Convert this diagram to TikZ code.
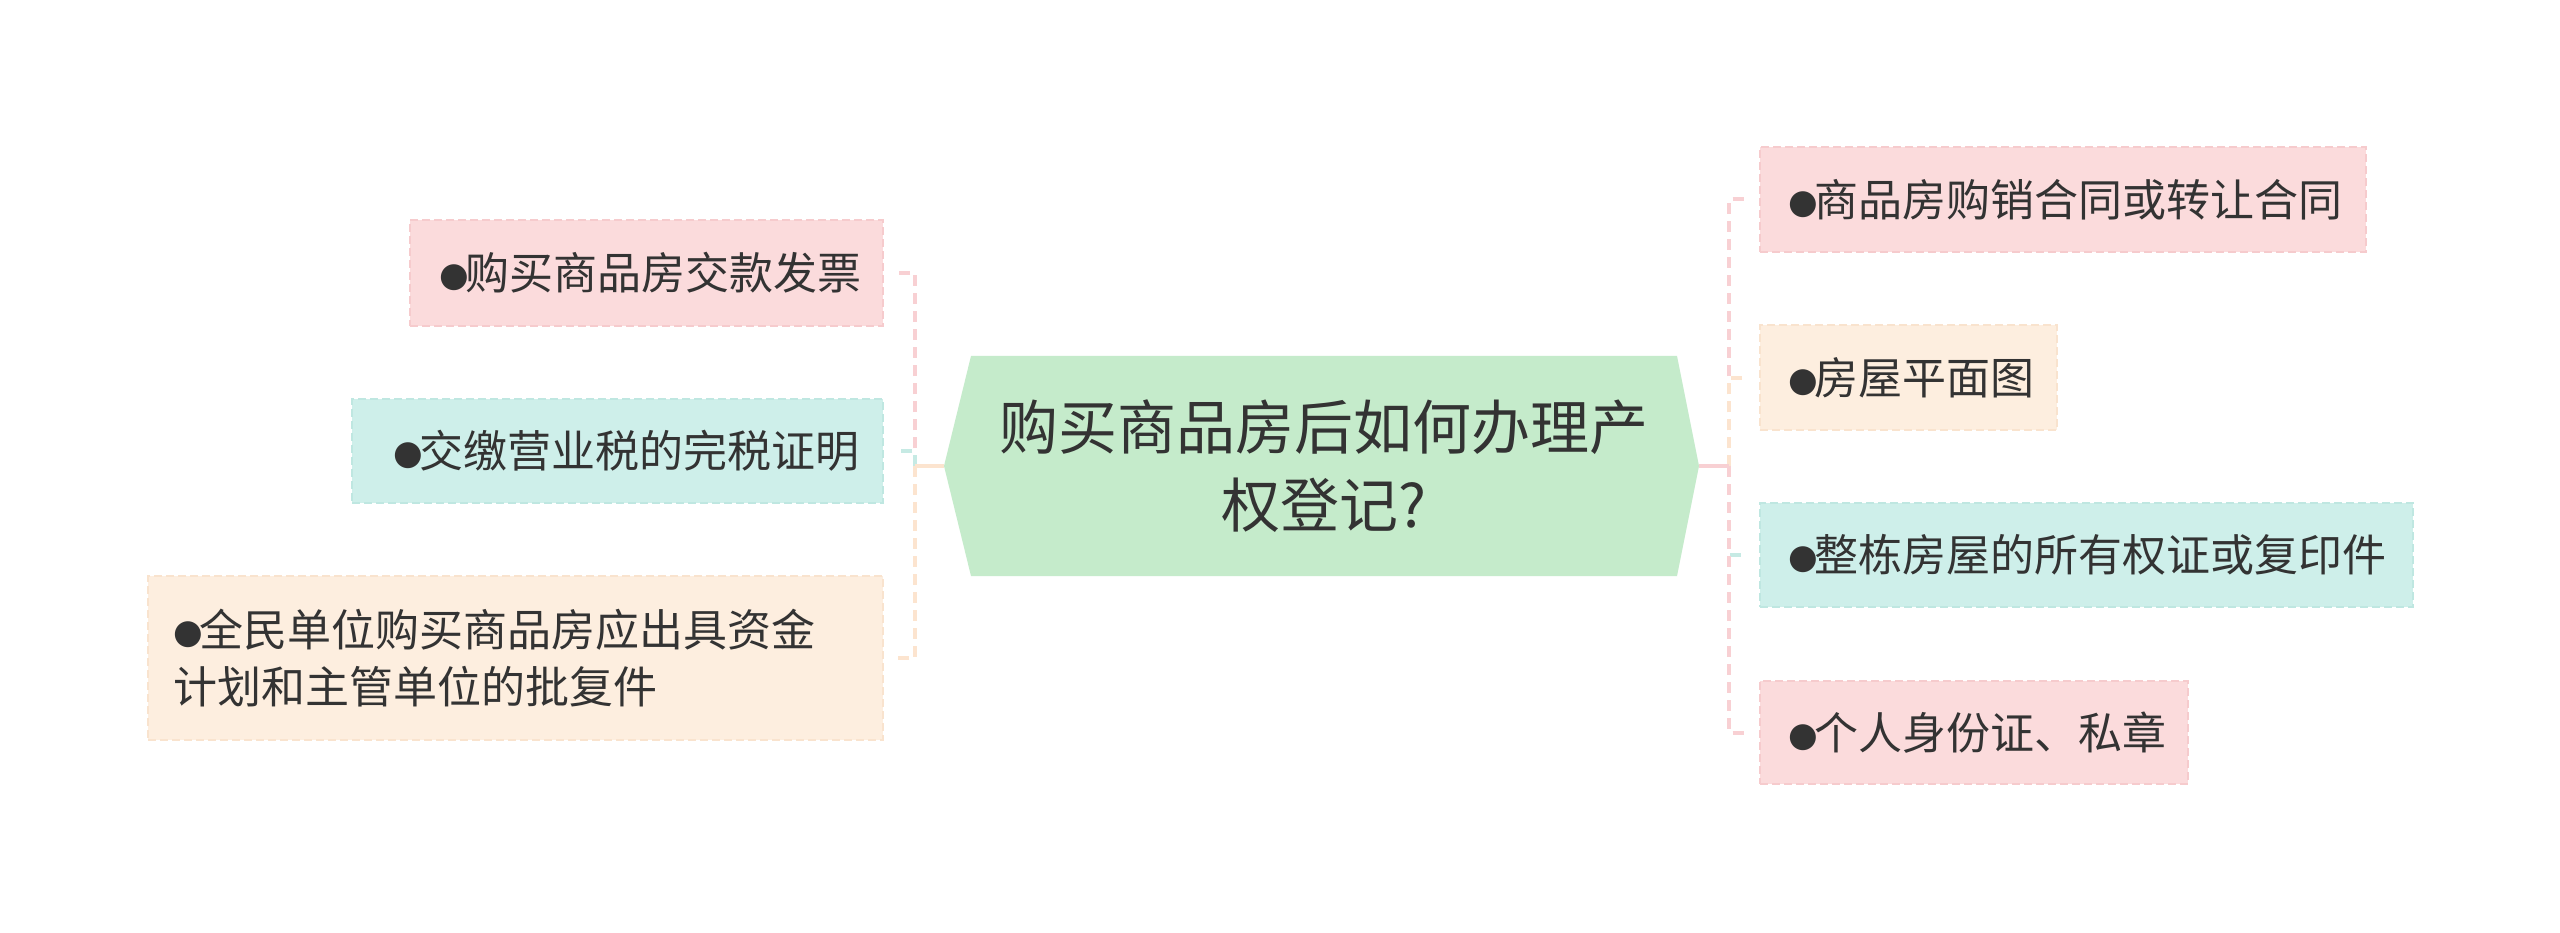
\documentclass[tikz,border=0pt]{standalone}
\usepackage{fontspec}
\setmainfont{Noto Sans CJK SC}
\newfontfamily\dejavu{DejaVu Sans}
\usetikzlibrary{backgrounds,calc}
\definecolor{textc}{HTML}{333333}
\definecolor{hexgreen}{HTML}{C5EBCB}
\definecolor{pinkfill}{HTML}{FBDBDC}
\definecolor{pinkline}{HTML}{F6CBCD}
\definecolor{cyanfill}{HTML}{CEEFEA}
\definecolor{cyanline}{HTML}{BFE7E1}
\definecolor{peachfill}{HTML}{FDEEDF}
\definecolor{peachline}{HTML}{F9E3CE}
\definecolor{conpink}{HTML}{F8D0D3}
\definecolor{concyan}{HTML}{C6EAE4}
\definecolor{conpeach}{HTML}{FCE4CF}
\newcommand{\bul}{\makebox[26pt][l]{\raisebox{3pt}{\fontsize{34}{34}\dejavu ●}}}
\newcommand{\padl}[1]{\hspace*{#1pt}}
\tikzset{
  leafbox/.style={anchor=north west, inner sep=0pt, outer sep=0pt, align=left,
    line width=1.5pt, dash pattern=on 8pt off 4pt, text=textc,
    font=\fontsize{44}{57}\selectfont},
  pinkbox/.style={leafbox, fill=pinkfill, draw=pinkline},
  cyanbox/.style={leafbox, fill=cyanfill, draw=cyanline},
  peachbox/.style={leafbox, fill=peachfill, draw=peachline},
  hexnode/.style={inner sep=0pt, outer sep=0pt, align=center, text=textc,
    minimum width=706pt, minimum height=220pt,
    font=\fontsize{59}{78}\selectfont},
  branch/.style={line width=4pt, dash pattern=on 11pt off 7pt, shorten >=12pt},
  trunk/.style={line width=4pt}
}
\begin{document}
\begin{tikzpicture}[x=1pt,y=-1pt]
\useasboundingbox (0,0) rectangle (2560,933);
% central topic
\node[hexnode] (hex) at (1324,466) {购买商品房后如何办理产\\权登记?};
\coordinate (hl) at ($(hex.west)+(-27pt,0)$);
\coordinate (hr) at ($(hex.east)+(22pt,0)$);
\begin{pgfonlayer}{background}
  \fill[white] (0,0) rectangle (2560,933);
  \fill[hexgreen] (hex.north west) -- (hex.north east) -- (hr) -- (hex.south east)
    -- (hex.south west) -- (hl) -- cycle;
\end{pgfonlayer}
% left leaves
\node[pinkbox, text width=473pt, minimum height=106pt] (l1) at (410,220)
  {\padl{29}\bul 购买商品房交款发票};
\node[cyanbox, text width=531pt, minimum height=104pt] (l2) at (352,399)
  {\padl{41}\bul 交缴营业税的完税证明};
\node[peachbox, text width=735pt, minimum height=164pt] (l3) at (148,576)
  {\padl{25}\bul 全民单位购买商品房应出具资金\\\padl{25}计划和主管单位的批复件};
% right leaves
\node[pinkbox, text width=606pt, minimum height=105pt] (r1) at (1760,147)
  {\padl{28}\bul 商品房购销合同或转让合同};
\node[peachbox, text width=297pt, minimum height=105pt] (r2) at (1760,325)
  {\padl{28}\bul 房屋平面图};
\node[cyanbox, text width=653pt, minimum height=104pt] (r3) at (1760,503)
  {\padl{28}\bul 整栋房屋的所有权证或复印件};
\node[pinkbox, text width=428pt, minimum height=103pt] (r4) at (1760,681)
  {\padl{28}\bul 个人身份证、私章};
% junctions
\coordinate (ls) at (915,466);
\coordinate (rs) at (1729,466);
% left connectors
\draw[branch, draw=conpink] (ls) |- (l1.east);
\draw[branch, draw=concyan] (ls) |- (l2.east);
\draw[branch, draw=conpeach] (ls) |- (l3.east);
\draw[trunk, draw=conpeach] (hl) -- (ls);
% right connectors
\draw[branch, draw=conpink] (rs) |- (r1.west);
\draw[branch, draw=conpeach] (rs) |- (r2.west);
\draw[branch, draw=concyan] (rs) |- (r3.west);
\draw[branch, draw=conpink] (rs) |- (r4.west);
\draw[trunk, draw=conpink] (hr) -- (rs);
\end{tikzpicture}
\end{document}
